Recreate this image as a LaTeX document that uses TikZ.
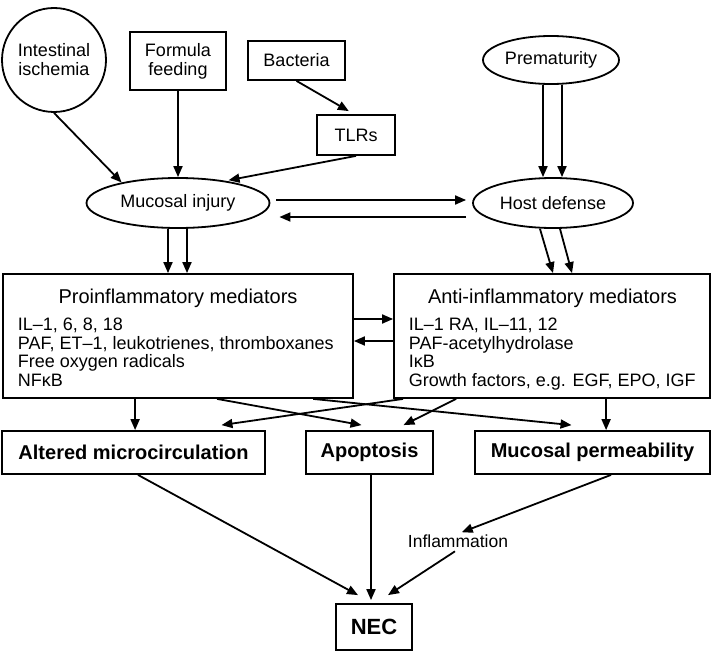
\documentclass[tikz,border=0pt]{standalone}
\usepackage{fontspec}
\setmainfont{Liberation Sans}
\usetikzlibrary{arrows.meta,positioning,shapes.geometric}

\begin{document}
\begin{tikzpicture}[x=1pt,y=-1pt,line width=1.8pt,
  every node/.style={inner sep=0pt,font=\fontsize{18}{19}\selectfont},
  box/.style={draw,rectangle,align=center},
  oval/.style={draw,ellipse},
  boldbox/.style={draw,rectangle,minimum height=43pt,font=\fontsize{20}{22}\selectfont\bfseries},
  head/.style={font=\fontsize{20}{22}\selectfont},
  items/.style={anchor=north west,align=left,font=\fontsize{18}{18.7}\selectfont},
  arr/.style={-{Triangle[length=11pt,width=9pt]}}]
  \useasboundingbox (0,0) rectangle (717,658);

  \node[draw,circle,minimum size=104pt,align=center] (isch) at (54,60) {Intestinal\\ischemia};
  \node[box,minimum width=96pt,minimum height=58pt] (form) at (178,61) {Formula\\feeding};
  \node[box,minimum width=97pt,minimum height=39pt] (bact) at (296.5,60.5) {Bacteria};
  \node[box,minimum width=78pt,minimum height=40pt] (tlr) at (356,135) {TLRs};
  \node[oval,minimum width=136pt,minimum height=48pt] (prem) at (551,60) {Prematurity};
  \node[oval,minimum width=183pt,minimum height=50pt] (muc) at (178,203) {Mucosal injury};
  \node[oval,minimum width=160pt,minimum height=50pt] (host) at (553,203) {Host defense};

  \node[draw,minimum width=350pt,minimum height=124pt] (pro) at (178,336) {};
  \node[head] (protitle) at (178,298) {Proinflammatory mediators};
  \node[items] (prolist) at (17,317) {IL–1, 6, 8, 18\\PAF, ET–1, leukotrienes, thromboxanes\\Free oxygen radicals\\NFκB};
  \node[draw,minimum width=316pt,minimum height=124pt] (anti) at (552,336) {};
  \node[head] (antititle) at (552.5,298) {Anti-inflammatory mediators};
  \node[items] (antilist) at (408,317) {IL–1 RA, IL–11, 12\\PAF-acetylhydrolase\\IκB\\Growth factors, e.g. EGF, EPO, IGF};

  \node[boldbox,minimum width=263pt] (alt) at (133.5,452.5) {Altered microcirculation};
  \node[boldbox,minimum width=127pt] (apop) at (369.5,452.5) {Apoptosis};
  \node[boldbox,minimum width=235pt] (perm) at (592.5,452.5) {Mucosal permeability};
  \node[font=\fontsize{17.5}{19}\selectfont] (infl) at (458,541) {Inflammation};
  \node[boldbox,minimum width=76pt,minimum height=46pt,font=\fontsize{22}{24}\selectfont\bfseries] (nec) at (374,627) {NEC};

  \draw[arr] (isch.south) -- (muc.160);
  \draw[arr] (form) -- (form |- muc.north);
  \draw[arr,shorten >=6pt] (bact.south) -- ([xshift=-2pt]tlr.north);
  \draw[arr,shorten >=3pt] (tlr.south) -- (muc.25);
  \draw[arr] ([xshift=-8pt]prem.south) -- ([xshift=-8pt]prem.south |- host.north);
  \draw[arr] ([xshift=11pt]prem.south) -- ([xshift=11pt]prem.south |- host.north);
  \draw[arr,shorten <=6pt,shorten >=6pt] ([yshift=3pt]muc.east) -- ([yshift=3pt]host.west);
  \draw[arr,shorten <=6pt,shorten >=9pt] ([yshift=-14pt]host.west) -- ([yshift=-14pt]muc.east);
  \draw[arr] ([xshift=-10pt]muc.south) -- ([xshift=-10pt]muc.south |- pro.north);
  \draw[arr] ([xshift=9pt]muc.south) -- ([xshift=9pt]muc.south |- pro.north);
  \draw[arr] ([xshift=-13pt]host.south) -- ([xshift=1pt]anti.north);
  \draw[arr] ([xshift=7pt]host.south) -- ([xshift=20pt]anti.north);
  \draw[arr] ([yshift=17pt]pro.east) -- ([yshift=17pt]pro.east -| anti.west);
  \draw[arr] ([yshift=-5pt]anti.west) -- ([yshift=-5pt]anti.west -| pro.east);

  \draw[arr] ([xshift=133pt]pro.south west) -- ([xshift=133pt]pro.south west |- alt.north);
  \draw[arr] ([xshift=215pt]pro.south west) -- ([xshift=-8pt,yshift=5pt]apop.north);
  \draw[arr] ([xshift=311pt]pro.south west) -- ([xshift=-21pt,yshift=5pt]perm.north);
  \draw[arr] ([xshift=10pt]anti.south west) -- ([xshift=88pt,yshift=5pt]alt.north);
  \draw[arr] ([xshift=63pt]anti.south west) -- ([xshift=34pt,yshift=5pt]apop.north);
  \draw[arr] ([xshift=213pt]anti.south west) -- ([xshift=213pt]anti.south west |- perm.north);

  \draw[arr] ([xshift=4.5pt]alt.south) -- ([xshift=-16pt,yshift=8pt]nec.north);
  \draw[arr,shorten >=3pt] ([xshift=1.5pt]apop.south) -- ([xshift=1.5pt]apop.south |- nec.north);
  \draw[arr,shorten >=4pt] ([xshift=18.5pt]perm.south) -- (infl.north);
  \draw[arr] ([xshift=-3pt,yshift=-3pt]infl.south) -- ([xshift=14pt,yshift=8pt]nec.north);
\end{tikzpicture}
\end{document}
